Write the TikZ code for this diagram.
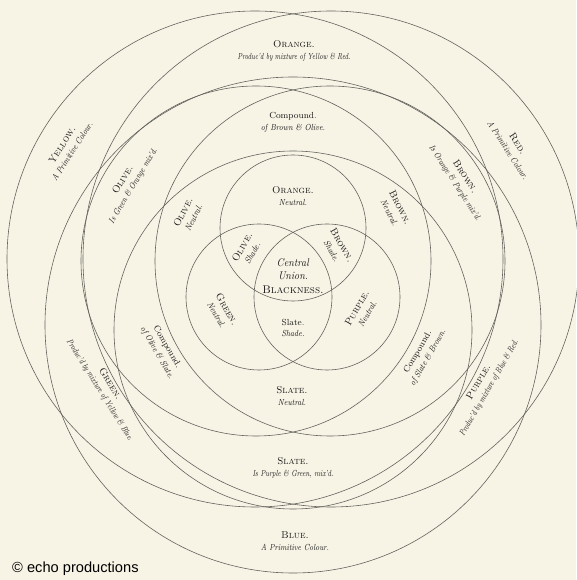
\documentclass[tikz,border=0pt]{standalone}
\usepackage{fontspec}
\usepackage{tikz}
\newfontfamily\creditfont{Liberation Sans}
\definecolor{paper}{RGB}{247,244,229}
\definecolor{ink}{RGB}{70,70,64}
\newcommand{\nm}[1]{{\fontsize{8.5}{9.5}\selectfont\scshape\addfontfeature{LetterSpace=6}#1}}
\newcommand{\pair}[3][0.85]{#2\\\scalebox{#1}[1]{\textit{#3}}}
\tikzset{
  ring/.style={draw=ink!85, line width=0.5pt},
  lab/.style={text=black!90, align=center, inner sep=0pt,
    font=\fontsize{7.5}{10}\selectfont}
}

\begin{document}
\begin{tikzpicture}[x=0.03cm, y=0.03cm]
\useasboundingbox[fill=paper] (0,0) rectangle (576,580);

% centres of the three triads
\coordinate (cYel) at (255,321);
\coordinate (cRed) at (331,321);
\coordinate (cBlu) at (293,255);
\coordinate (cOlv) at (256,319);
\coordinate (cBrn) at (330,319);
\coordinate (cSlt) at (293,250);
\coordinate (cOrg) at (293,352);
\coordinate (cGrn) at (259,283);
\coordinate (cPur) at (327,283);

\foreach \c/\r in {cYel/248, cRed/248, cBlu/248, cOlv/175, cBrn/175, cSlt/179, cOrg/73, cGrn/73, cPur/73}
  \draw[ring] (\c) circle (\r);

% primaries and secondaries
\node[lab] (orangeP) at (294,529) {\pair[0.72]{\nm{Orange.}}{Produc'd by mixture of Yellow \& Red.}};
\node[lab, rotate=57] (yellowP) at (67,432) {\pair[0.82]{\nm{Yellow.}}{A Primitive Colour.}};
\node[lab, rotate=-57] (redP) at (513,433) {\pair[0.82]{\nm{Red.}}{A Primitive Colour.}};
\node[lab] (blueP) at (295,39) {\pair[0.82]{\nm{Blue.}}{A Primitive Colour.}};
\node[lab, rotate=-58] (greenP) at (105,193) {\pair[0.74]{\nm{Green.}}{Produc'd by mixture of Yellow \& Blue.}};
\node[lab, rotate=60] (purpleP) at (484,195) {\pair[0.74]{\nm{Purple.}}{Produc'd by mixture of Blue \& Red.}};

% tertiaries and compounds
\node[lab, rotate=59] (oliveM) at (128,397) {\pair[0.8]{\nm{Olive.}}{Is Green \& Orange mix'd.}};
\node[lab, rotate=-57] (brownM) at (460,400) {\pair[0.8]{\nm{Brown.}}{Is Orange \& Purple mix'd.}};
\node[lab] (slateM) at (293,112) {\pair[0.75]{\nm{Slate.}}{Is Purple \& Green, mix'd.}};
\node[lab] (compBO) at (293,458) {\pair{Compound.}{of Brown \& Olive.}};
\node[lab, rotate=-60] (compOS) at (162,230) {\pair{Compound.}{of Olive \& Slate.}};
\node[lab, rotate=60] (compSB) at (423,225) {\pair{Compound.}{of Slate \& Brown.}};

% neutrals
\node[lab, rotate=63] (oliveN) at (188,365) {\pair{\nm{Olive.}}{Neutral.}};
\node[lab, rotate=-63] (brownN) at (395,370) {\pair{\nm{Brown.}}{Neutral.}};
\node[lab] (slateN) at (292,184) {\pair{\nm{Slate.}}{Neutral.}};
\node[lab] (orangeN) at (293,384) {\pair{\nm{Orange.}}{Neutral.}};
\node[lab, rotate=-60] (greenN) at (222,268) {\pair{\nm{Green.}}{Neutral.}};
\node[lab, rotate=60] (purpleN) at (362,269) {\pair{\nm{Purple.}}{Neutral.}};

% shades and the centre
\node[lab, rotate=60] (oliveS) at (247,330) {\pair{\nm{Olive.}}{Shade.}};
\node[lab, rotate=-60] (brownS) at (337,332) {\pair{\nm{Brown.}}{Shade.}};
\node[lab] (slateS) at (293,252) {\pair{Slate.}{Shade.}};
\node[lab, font=\fontsize{9.5}{11.5}\selectfont] (centre) at (293,304)
  {\scalebox{0.9}[1]{\textit{Central}}\\\scalebox{0.9}[1]{\textit{Union.}}\\{\scshape\addfontfeature{LetterSpace=8}Blackness.}};

\node[anchor=south west, inner sep=0pt, font=\creditfont\fontsize{12.5}{14}\selectfont] (credit) at (12,4) {© echo productions};
\end{tikzpicture}
\end{document}
